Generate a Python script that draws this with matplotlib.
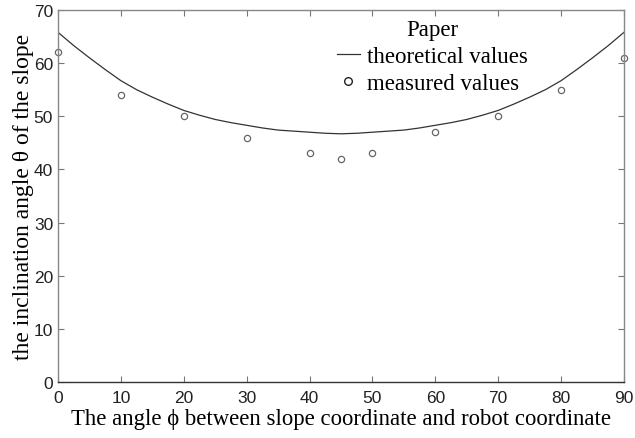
import matplotlib
matplotlib.use("Agg")
import matplotlib.pyplot as plt
from matplotlib.lines import Line2D

# theoretical curve, theta vs phi (degrees)
phi_theory = [0, 2.5, 5, 7.5, 10, 12.5, 15, 17.5, 20, 22.5, 25, 27.5, 30, 32.5, 35, 37.5, 40, 42.5,
              45, 47.5, 50, 52.5, 55, 57.5, 60, 62.5, 65, 67.5, 70, 72.5, 75, 77.5, 80, 82.5, 85, 87.5, 90]
theta_theory = [65.8, 63.3, 61.0, 58.8, 56.7, 55.0, 53.6, 52.3, 51.1, 50.2, 49.4, 48.8, 48.3, 47.8, 47.4, 47.2, 47.0, 46.8,
                46.7, 46.8, 47.0, 47.2, 47.4, 47.8, 48.3, 48.8, 49.4, 50.2, 51.1, 52.3, 53.6, 55.0, 56.7, 58.8, 61.0, 63.3, 65.8]

# measured points
phi_meas = [0, 10, 20, 30, 40, 45, 50, 60, 70, 80, 90]
theta_meas = [62, 54, 50, 46, 43, 42, 43, 47, 50, 55, 61]

xticks = [0, 10, 20, 30, 40, 50, 60, 70, 80, 90]
yticks = [0, 10, 20, 30, 40, 50, 60, 70]

serif = "Liberation Serif"
sans = "Liberation Sans"

fig = plt.figure(figsize=(6.35, 4.39), dpi=100)
ax = fig.add_axes((0.0913, 0.1276, 0.8914, 0.8474))

ax.plot(phi_theory, theta_theory, color="#333333", lw=0.9)
ax.plot(phi_meas, theta_meas, "o", ms=4.5, mfc="none", mec="#666666", mew=0.9, clip_on=False)

ax.set_xlim(0, 90)
ax.set_ylim(0, 70)
ax.set_xticks(xticks)
ax.set_yticks(yticks)
ax.tick_params(direction="in", length=4, width=0.8, top=True, right=True,
               labelsize=12.5, colors="#777777", labelcolor="#222222")
ax.tick_params(axis="x", pad=6)
ax.tick_params(axis="y", pad=3.5)
for lab in ax.get_xticklabels() + ax.get_yticklabels():
    lab.set_fontfamily(sans)
for side in ["top", "left", "right"]:
    ax.spines[side].set_color("#888888")
    ax.spines[side].set_linewidth(1.0)
ax.spines["bottom"].set_color("#333333")
ax.spines["bottom"].set_linewidth(1.0)

ax.set_xlabel("The angle \u03d5 between slope coordinate and robot coordinate",
              fontfamily=serif, fontsize=16.4, labelpad=2)
ax.set_ylabel("the inclination angle \u03b8 of the slope",
              fontfamily=serif, fontsize=17, labelpad=0)

handles = [
    Line2D([], [], color="#333333", lw=0.9),
    Line2D([], [], ls="none", marker="o", ms=5.5, mfc="none", mec="#222222", mew=1.0),
]
leg = ax.legend(handles, ["theoretical values", "measured values"], title="Paper",
                loc="upper right", bbox_to_anchor=(0.846, 1.0), frameon=False,
                prop={"family": serif, "size": 16.5}, title_fontproperties={"family": serif, "size": 16.5},
                handlelength=1.0, handletextpad=0.3, labelspacing=0.25, borderaxespad=0.0)

fig.savefig("out.png", dpi=100)
